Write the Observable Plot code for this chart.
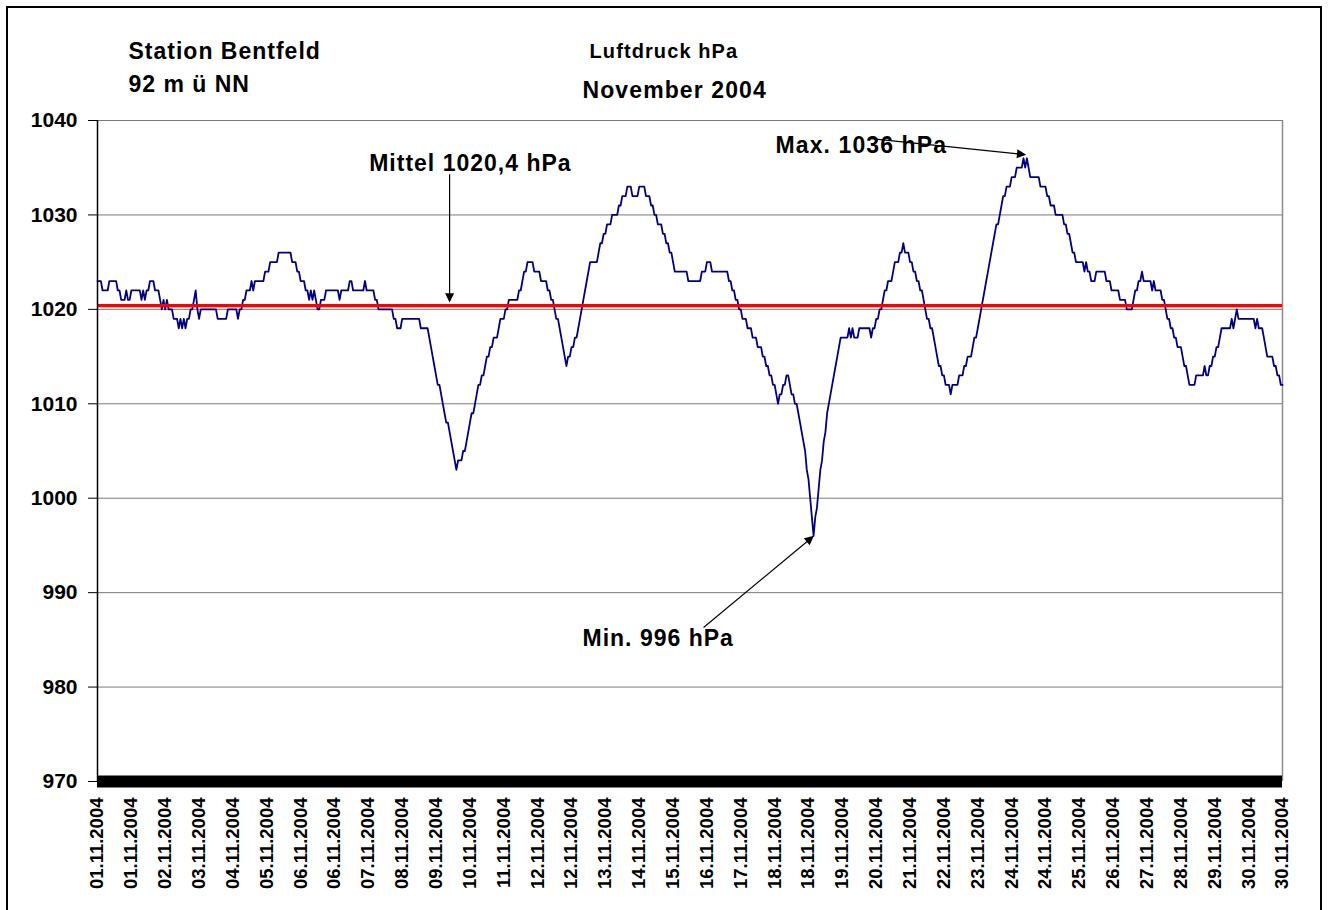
<!DOCTYPE html>
<html>
<head>
<meta charset="utf-8">
<script src="https://cdn.jsdelivr.net/npm/d3@7"></script>
<script src="https://cdn.jsdelivr.net/npm/@observablehq/plot@0.6"></script>
<style>
  html, body { margin: 0; padding: 0; background: #fff; }
  #wrap { position: relative; width: 1328px; height: 910px; overflow: hidden; background: #fff; }
  #chart { position: absolute; left: 0; top: 0; }
  #border { position: absolute; left: 6px; top: 6px; width: 1316px; height: 940px; border: 2px solid #000; box-sizing: border-box; pointer-events: none; }
</style>
</head>
<body>
<div id="wrap">
  <div id="chart"></div>
  <div id="border"></div>
</div>
<script>
// ---- Data: hourly air pressure (hPa), Station Bentfeld, November 2004 ----
// Each entry: [hour index where a new reading level starts, pressure in hPa]
const week1 = [[0,1023],[3,1022],[7,1023],[12,1022],[14,1021],[17,1022],[18,1021],[20,1022],[26,1021],[27,1022],[28,1021],[29,1022],[31,1023],[34,1022],[37,1021],[38,1020],[39,1021],[40,1020],[41,1021],[42,1020],[45,1019],[48,1018],[49,1019],[50,1018],[51,1019],[52,1018],[53,1019],[55,1020],[57,1021],[58,1022],[59,1020],[60,1019],[61,1020],[71,1019],[77,1020],[83,1019],[84,1020],[86,1021],[88,1022],[91,1023],[92,1022],[93,1023],[99,1024],[102,1025],[107,1026],[115,1025],[118,1024],[120,1023],[123,1022],[125,1021],[126,1022],[127,1021],[128,1022],[129,1021],[130,1020],[132,1021],[135,1022],[143,1021],[144,1022],[149,1023],[151,1022],[158,1023],[159,1022],[164,1021],[166,1020]];
const week2 = [[175,1019],[177,1018],[180,1019],[191,1018],[196,1017],[197,1016],[198,1015],[199,1014],[200,1013],[201,1012],[203,1011],[204,1010],[205,1009],[206,1008],[208,1007],[209,1006],[210,1005],[211,1004],[212,1003],[213,1004],[216,1005],[218,1006],[219,1007],[220,1008],[221,1009],[223,1010],[224,1011],[225,1012],[227,1013],[229,1014],[230,1015],[232,1016],[234,1017],[237,1018],[238,1019],[241,1020],[243,1021],[249,1022],[251,1023],[252,1024],[254,1025],[258,1024],[262,1023],[266,1022],[268,1021],[270,1020],[271,1019],[273,1018],[274,1017],[275,1016],[276,1015],[277,1014],[278,1015],[280,1016],[282,1017],[284,1018],[285,1019],[286,1020],[287,1021],[288,1022],[289,1023],[290,1024],[291,1025],[296,1026],[297,1027],[299,1028],[301,1029],[304,1030],[308,1031],[310,1032],[313,1033],[316,1032],[320,1033],[324,1032],[327,1031],[329,1030],[331,1029],[334,1028],[336,1027],[338,1026],[340,1025]];
const week3 = [[341,1024],[349,1023],[357,1024],[360,1025],[363,1024],[373,1023],[375,1022],[377,1021],[379,1020],[381,1019],[384,1018],[387,1017],[390,1016],[393,1015],[395,1014],[397,1013],[399,1012],[401,1011],[402,1010],[403,1011],[405,1012],[407,1013],[409,1012],[410,1011],[412,1010],[414,1009],[415,1008],[416,1007],[417,1006],[418,1005],[419,1003],[420,1002],[421,1000],[422,998],[423,996],[424,998],[425,999],[426,1001],[427,1003],[428,1004],[429,1006],[430,1007],[431,1009],[432,1010],[433,1011],[434,1012],[435,1013],[436,1014],[437,1015],[438,1016],[439,1017],[444,1018],[445,1017],[446,1018],[447,1017],[450,1018],[457,1017],[458,1018],[460,1019],[462,1020],[464,1021],[465,1022],[467,1023],[470,1024],[471,1025],[474,1026],[476,1027],[477,1026],[480,1025],[482,1024],[484,1023],[486,1022],[488,1021],[489,1020],[490,1019],[492,1018],[494,1017],[495,1016],[496,1015],[497,1014],[499,1013],[501,1012],[504,1011],[505,1012],[509,1013],[512,1014],[514,1015],[517,1016],[518,1017],[520,1018]];
const week4 = [[521,1019],[522,1020],[523,1021],[524,1022],[525,1023],[526,1024],[527,1025],[528,1026],[529,1027],[530,1028],[531,1029],[533,1030],[534,1031],[535,1032],[537,1033],[540,1034],[543,1035],[547,1036],[548,1035],[549,1036],[550,1035],[551,1034],[557,1033],[561,1032],[563,1031],[566,1030],[571,1029],[573,1028],[575,1027],[576,1026],[578,1025],[583,1024],[584,1025],[585,1024],[587,1023],[590,1024],[596,1023],[599,1022],[604,1021],[608,1020],[612,1021],[613,1022],[615,1023],[617,1024],[618,1023],[623,1022],[624,1023],[625,1022],[629,1021],[631,1020],[632,1019],[634,1018],[636,1017],[638,1016],[641,1015],[642,1014],[644,1013],[645,1012],[649,1013],[654,1014],[655,1013],[657,1014],[659,1015],[661,1016],[663,1017],[664,1018],[670,1019],[671,1018],[672,1019],[673,1020],[674,1019],[684,1018],[685,1019],[686,1018],[689,1017],[690,1016],[691,1015],[695,1014],[697,1013],[699,1012]];
const lastHour = 700;

const meanHPa = 1020.4;
const yTicks = [970, 980, 990, 1000, 1010, 1020, 1030, 1040];
const labelEveryHours = 20;
const xLabels = ["01.11.2004","01.11.2004","02.11.2004","03.11.2004","04.11.2004","05.11.2004","06.11.2004","06.11.2004","07.11.2004","08.11.2004","09.11.2004","10.11.2004","11.11.2004","12.11.2004","12.11.2004","13.11.2004","14.11.2004","15.11.2004","16.11.2004","17.11.2004","18.11.2004","18.11.2004","19.11.2004","20.11.2004","21.11.2004","22.11.2004","23.11.2004","24.11.2004","24.11.2004","25.11.2004","26.11.2004","27.11.2004","28.11.2004","29.11.2004","30.11.2004","30.11.2004"];

// titles
const titleStation = "Station Bentfeld";
const titleHeight = "92 m ü NN";
const titleMeasure = "Luftdruck hPa";
const titleMonth = "November 2004";

// annotations (text anchor point and arrow in data space)
const annotText = ["Mittel 1020,4 hPa", "Max. 1036 hPa", "Min. 996 hPa"];
const annotHour = [160.5, 400.5, 286.5];
const annotHPa  = [1034.7, 1036.6, 984.3];
const arrowFromHour = [208, 455.4, 358];
const arrowFromHPa  = [1034.3, 1038.1, 986.3];
const arrowToHour   = [208, 547.6, 422.4];
const arrowToHPa    = [1020.9, 1036.4, 995.9];

// ---- Build tables ----
const runs = [...week1, ...week2, ...week3, ...week4];
const points = [];
runs.forEach(([h, v], i) => {
  const end = i + 1 < runs.length ? runs[i + 1][0] - 1 : lastHour;
  points.push({hour: h, hPa: v});
  if (end > h) points.push({hour: end, hPa: v});
});
const xTicks = xLabels.map((_, i) => i * labelEveryHours);
const annots = annotText.map((t, i) => ({text: t, hour: annotHour[i], hPa: annotHPa[i]}));
const arrows = annotText.map((t, i) => ({x1: arrowFromHour[i], y1: arrowFromHPa[i], x2: arrowToHour[i], y2: arrowToHPa[i]}));

const FONT = "'Liberation Sans', Arial, Helvetica, sans-serif";

const svg = Plot.plot({
  width: 1328,
  height: 910,
  marginLeft: 97,
  marginRight: 46,
  marginTop: 120,
  marginBottom: 129,
  style: {fontFamily: FONT, background: "white", color: "black", overflow: "visible"},
  x: {domain: [0, lastHour]},
  y: {domain: [970, 1040]},
  marks: [
    Plot.gridY(yTicks.filter(d => d > 970), {stroke: "#7a7a7a", strokeOpacity: 1, strokeWidth: 1}),
    Plot.ruleX([lastHour], {stroke: "#8a8a8a", strokeWidth: 1.5}),
    Plot.line(points, {x: "hour", y: "hPa", stroke: "#000080", strokeWidth: 1.8}),
    Plot.ruleY([meanHPa], {stroke: "#ff0000", strokeWidth: 3.4}),
    Plot.ruleY([970], {stroke: "black", strokeWidth: 12}),
    Plot.ruleX([0], {stroke: "black", strokeWidth: 1.5}),
    Plot.axisY({ticks: yTicks, tickFormat: d => String(d), tickSize: 9, tickPadding: 11, fontSize: 21, fontWeight: "bold", label: null, stroke: "black"}),
    Plot.axisX({ticks: xTicks, tickFormat: (d, i) => xLabels[i], tickRotate: -90, tickSize: 0, tickPadding: 16, fontSize: 18.5, fontWeight: "bold", label: null}),
    Plot.text(annots, {x: "hour", y: "hPa", text: "text", textAnchor: "start", lineAnchor: "bottom", fontSize: 23, fontWeight: "bold", fill: "black"}),
    Plot.link(arrows, {x1: "x1", y1: "y1", x2: "x2", y2: "y2", stroke: "black", strokeWidth: 1.2, markerEnd: "arrow"}),
    Plot.text([titleStation], {frameAnchor: "top-left", dx: 31, dy: -62, textAnchor: "start", lineAnchor: "bottom", fontSize: 23, fontWeight: "bold"}),
    Plot.text([titleHeight], {frameAnchor: "top-left", dx: 31, dy: -28.5, textAnchor: "start", lineAnchor: "bottom", fontSize: 23, fontWeight: "bold"}),
    Plot.text([titleMeasure], {frameAnchor: "top-left", dx: 492, dy: -63, textAnchor: "start", lineAnchor: "bottom", fontSize: 20, fontWeight: "bold"}),
    Plot.text([titleMonth], {frameAnchor: "top-left", dx: 485, dy: -23, textAnchor: "start", lineAnchor: "bottom", fontSize: 23, fontWeight: "bold"})
  ]
});

// styling touches: letter spacing of the wide bold labels, filled arrow heads
const spacing = new Map([
  [titleStation, 1.0], [titleHeight, 1.0], [titleMeasure, 1.1], [titleMonth, 1.1],
  [annotText[0], 1.0], [annotText[1], 1.1], [annotText[2], 1.0]
]);
svg.querySelectorAll("text").forEach(t => {
  const s = spacing.get(t.textContent);
  if (s != null) t.setAttribute("letter-spacing", s + "px");
});
svg.querySelectorAll("marker").forEach(m => {
  m.setAttribute("viewBox", "-5 -5 10 10");
  m.setAttribute("markerWidth", 14);
  m.setAttribute("markerHeight", 14);
  m.setAttribute("fill", "black");
  m.setAttribute("stroke", "none");
  const p = m.querySelector("path");
  if (p) p.setAttribute("d", "M-4.5,-2.7L1,0L-4.5,2.7Z");
});

document.getElementById("chart").appendChild(svg);
</script>
</body>
</html>
